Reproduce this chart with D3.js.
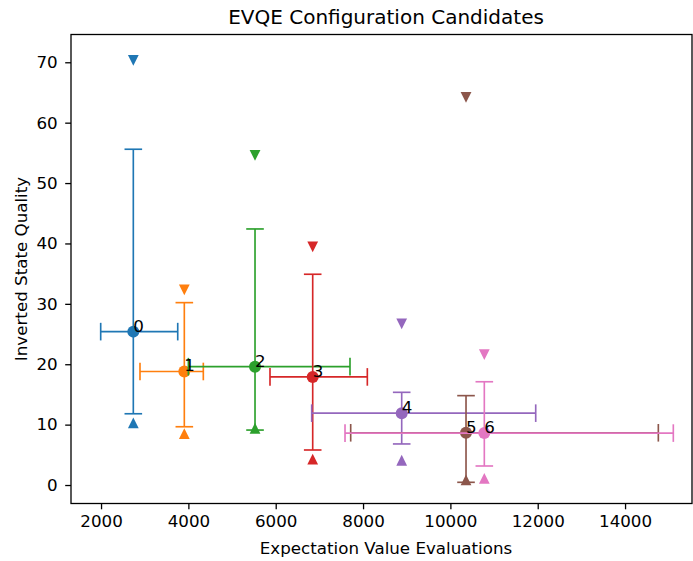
<!DOCTYPE html>
<html>
<head>
<meta charset="utf-8">
<script src="https://cdn.jsdelivr.net/npm/d3@7"></script>
<style>
  html, body { margin: 0; padding: 0; background: #fff; }
  svg { display: block; }
  text { font-family: "DejaVu Sans", sans-serif; }
</style>
</head>
<body>
<svg id="chart" width="693" height="561"></svg>
<script>
// Candidate configurations: evaluation counts and inverted state quality
const labels = ["0", "1", "2", "3", "4", "5", "6"];
const evals = [2739, 3907, 5526, 6847, 8885, 10358, 10777];
const evalsLow = [1992, 2892, 4000, 5869, 6824, 7717, 7587];
const evalsHigh = [3756, 4342, 7701, 8098, 11954, 14762, 15105];
const quality = [25.4, 18.8, 19.6, 17.9, 11.9, 8.65, 8.6];
const qualityLow = [11.8, 9.65, 9.1, 5.8, 6.8, 0.45, 3.15];
const qualityHigh = [55.6, 30.2, 42.4, 34.9, 15.35, 14.8, 17.1];
const qualityMin = [10.3, 8.5, 9.4, 4.3, 4.1, 0.85, 1.1];
const qualityMax = [70.3, 32.3, 54.6, 39.45, 26.7, 64.2, 21.6];
const xTicks = [2000, 4000, 6000, 8000, 10000, 12000, 14000];
const yTicks = [0, 10, 20, 30, 40, 50, 60, 70];
const colors = ["#1f77b4", "#ff7f0e", "#2ca02c", "#d62728", "#9467bd", "#8c564b", "#e377c2"];

const svg = d3.select("#chart");
const plot = { left: 71, right: 692, top: 34.5, bottom: 503.5 };

const x = d3.scaleLinear().domain([1312, 15533]).range([plot.left, plot.right]);
const y = d3.scaleLinear().domain([-3.06, 74.6]).range([plot.bottom, plot.top]);

const fontSize = 16.7;

// Axes
const xAxis = svg.append("g")
  .attr("transform", `translate(0,${plot.bottom})`)
  .call(d3.axisBottom(x).tickValues(xTicks).tickFormat(d3.format("d")).tickSize(5.8).tickPadding(5.5));
const yAxis = svg.append("g")
  .attr("transform", `translate(${plot.left},0)`)
  .call(d3.axisLeft(y).tickValues(yTicks).tickFormat(d3.format("d")).tickSize(5.8).tickPadding(7.5));
[xAxis, yAxis].forEach(a => {
  a.select(".domain").remove();
  a.selectAll(".tick line").attr("stroke", "#000").attr("stroke-width", 1.3);
  a.selectAll(".tick text").attr("fill", "#000").style("font-size", fontSize + "px")
    .style("font-family", "'DejaVu Sans', sans-serif");
});

// Frame
svg.append("rect")
  .attr("x", plot.left).attr("y", plot.top)
  .attr("width", plot.right - plot.left).attr("height", plot.bottom - plot.top)
  .attr("fill", "none").attr("stroke", "#000").attr("stroke-width", 1.3);

// Titles
svg.append("text").attr("x", 386).attr("y", 24).attr("text-anchor", "middle")
  .style("font-size", "20px").text("EVQE Configuration Candidates");
svg.append("text").attr("x", 386).attr("y", 554).attr("text-anchor", "middle")
  .style("font-size", fontSize + "px").text("Expectation Value Evaluations");
svg.append("text").attr("transform", `translate(27,${(plot.top + plot.bottom) / 2}) rotate(-90)`)
  .attr("text-anchor", "middle")
  .style("font-size", fontSize + "px").text("Inverted State Quality");

// Error bars, centre points and min/max markers
const cap = 8.8;
const lw = 1.65;
const marks = svg.append("g");
const tri = 5.4;

labels.forEach((lab, i) => {
  const g = marks.append("g").attr("stroke", colors[i]).attr("fill", colors[i]);
  const cx = x(evals[i]), cy = y(quality[i]);
  const xl = x(evalsLow[i]), xh = x(evalsHigh[i]);
  const yl = y(qualityLow[i]), yh = y(qualityHigh[i]);
  g.append("line").attr("x1", xl).attr("x2", xh).attr("y1", cy).attr("y2", cy).attr("stroke-width", lw);
  g.append("line").attr("x1", cx).attr("x2", cx).attr("y1", yl).attr("y2", yh).attr("stroke-width", lw);
  [xl, xh].forEach(px => g.append("line").attr("x1", px).attr("x2", px)
    .attr("y1", cy - cap).attr("y2", cy + cap).attr("stroke-width", lw));
  [yl, yh].forEach(py => g.append("line").attr("y1", py).attr("y2", py)
    .attr("x1", cx - cap).attr("x2", cx + cap).attr("stroke-width", lw));
  g.append("circle").attr("cx", cx).attr("cy", cy).attr("r", 6).attr("stroke", "none");

  const ym = y(qualityMin[i]);
  g.append("path").attr("stroke", "none")
    .attr("d", `M${cx},${ym - tri}L${cx + tri},${ym + tri}L${cx - tri},${ym + tri}Z`);
  const yM = y(qualityMax[i]);
  g.append("path").attr("stroke", "none")
    .attr("d", `M${cx},${yM + tri}L${cx + tri},${yM - tri}L${cx - tri},${yM - tri}Z`);
});

// Index labels at each centre point
svg.append("g").selectAll("text").data(labels).join("text")
  .attr("x", (d, i) => x(evals[i]))
  .attr("y", (d, i) => y(quality[i]))
  .attr("fill", "#000")
  .style("font-size", fontSize + "px")
  .text(d => d);
</script>
</body>
</html>
